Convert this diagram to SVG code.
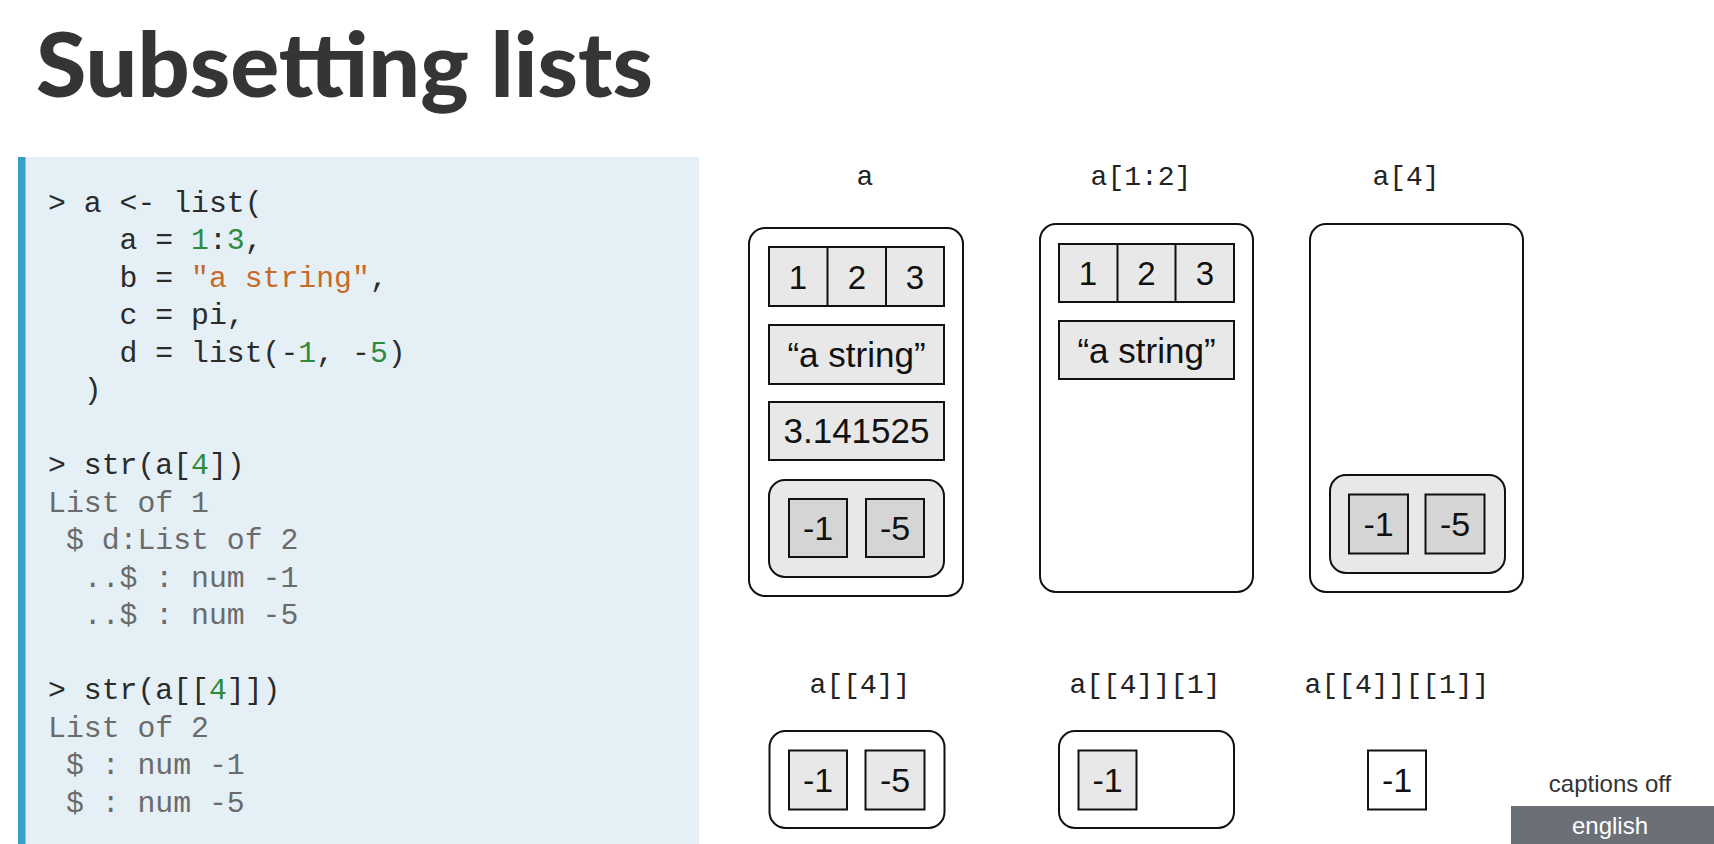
<svg xmlns="http://www.w3.org/2000/svg" width="1714" height="844" viewBox="0 0 1714 844">
<defs>
<style>
.title{font-family:Lato,"Open Sans","Liberation Sans",sans-serif;font-weight:900;font-size:90px;fill:#353535}
.code{font-family:"Liberation Mono","DejaVu Sans Mono",monospace;font-size:29.8px;fill:#2b2b2b;white-space:pre}
.out{fill:#6b6b6b}
.num{fill:#2e8b3d}
.str{fill:#c96a28}
.lbl{font-family:"Liberation Mono","DejaVu Sans Mono",monospace;font-size:28px;fill:#222;text-anchor:middle}
.outer{fill:#fff;stroke:#111;stroke-width:2}
.cell{fill:#e8e8e8;stroke:#111;stroke-width:2}
.dcell{fill:#d5d5d5;stroke:#111;stroke-width:2}
.wcell{fill:#fff;stroke:#111;stroke-width:2}
.t{font-family:"Liberation Sans",Arial,sans-serif;fill:#111;text-anchor:middle}
.t31{font-size:33px}
.t33{font-size:34px}
.t35{font-size:35px}
.ui{font-family:"Liberation Sans",Arial,sans-serif;font-size:24px;text-anchor:middle}
</style>
</defs>
<rect width="1714" height="844" fill="#fff"/>

<g id="title">
<text class="title" x="36" y="97" textLength="617" lengthAdjust="spacingAndGlyphs">Subsetting lists</text>
</g>

<g id="code-panel">
<rect x="18" y="157" width="681" height="687" fill="#e5f0f6"/>
<rect x="18" y="157" width="7.5" height="687" fill="#3a9fc6"/>
<text class="code" xml:space="preserve" x="48" y="211.5">&gt; a &lt;- list(</text>
<text class="code" xml:space="preserve" x="48" y="249">    a = <tspan class="num">1</tspan>:<tspan class="num">3</tspan>,</text>
<text class="code" xml:space="preserve" x="48" y="286.5">    b = <tspan class="str">"a string"</tspan>,</text>
<text class="code" xml:space="preserve" x="48" y="324">    c = pi,</text>
<text class="code" xml:space="preserve" x="48" y="361.5">    d = list(-<tspan class="num">1</tspan>, -<tspan class="num">5</tspan>)</text>
<text class="code" xml:space="preserve" x="48" y="399">  )</text>
<text class="code" xml:space="preserve" x="48" y="474">&gt; str(a[<tspan class="num">4</tspan>])</text>
<text class="code out" xml:space="preserve" x="48" y="511.5">List of 1</text>
<text class="code out" xml:space="preserve" x="48" y="549"> $ d:List of 2</text>
<text class="code out" xml:space="preserve" x="48" y="586.5">  ..$ : num -1</text>
<text class="code out" xml:space="preserve" x="48" y="624">  ..$ : num -5</text>
<text class="code" xml:space="preserve" x="48" y="699">&gt; str(a[[<tspan class="num">4</tspan>]])</text>
<text class="code out" xml:space="preserve" x="48" y="736.5">List of 2</text>
<text class="code out" xml:space="preserve" x="48" y="774"> $ : num -1</text>
<text class="code out" xml:space="preserve" x="48" y="811.5"> $ : num -5</text>
</g>

<g id="connectors"></g>

<g id="node-a">
<text class="lbl" x="865" y="185">a</text>
<rect class="outer" x="749" y="228" width="214" height="368" rx="16"/>
<rect class="cell" x="769" y="247" width="175" height="59"/>
<line x1="827.5" y1="247" x2="827.5" y2="306" stroke="#111" stroke-width="2"/>
<line x1="886" y1="247" x2="886" y2="306" stroke="#111" stroke-width="2"/>
<text class="t t31" x="798" y="288.5">1</text>
<text class="t t31" x="857" y="288.5">2</text>
<text class="t t31" x="915" y="288.5">3</text>
<rect class="cell" x="769" y="325" width="175" height="59"/>
<text class="t t35" x="856.5" y="367">“a string”</text>
<rect class="cell" x="769" y="402" width="175" height="58"/>
<text class="t t35" x="856.5" y="443">3.141525</text>
<rect class="cell" x="769" y="480" width="175" height="97" rx="16"/>
<rect class="dcell" x="789" y="499" width="58" height="58"/>
<text class="t t33" x="818" y="540">-1</text>
<rect class="dcell" x="866" y="499" width="58" height="58"/>
<text class="t t33" x="895" y="540">-5</text>
</g>

<g id="node-a12">
<text class="lbl" x="1141" y="185">a[1:2]</text>
<rect class="outer" x="1040" y="224" width="213" height="368" rx="16"/>
<rect class="cell" x="1059" y="244" width="175" height="58"/>
<line x1="1117.5" y1="244" x2="1117.5" y2="302" stroke="#111" stroke-width="2"/>
<line x1="1175.5" y1="244" x2="1175.5" y2="302" stroke="#111" stroke-width="2"/>
<text class="t t31" x="1088" y="285">1</text>
<text class="t t31" x="1146.5" y="285">2</text>
<text class="t t31" x="1205" y="285">3</text>
<rect class="cell" x="1059" y="321" width="175" height="58"/>
<text class="t t35" x="1146.5" y="362.5">“a string”</text>
</g>

<g id="node-a4">
<text class="lbl" x="1406" y="185">a[4]</text>
<rect class="outer" x="1310" y="224" width="213" height="368" rx="16"/>
<rect class="cell" x="1330" y="475" width="175" height="98" rx="16"/>
<rect class="dcell" x="1349" y="494.5" width="59" height="59"/>
<text class="t t33" x="1378.5" y="536">-1</text>
<rect class="dcell" x="1425.5" y="494.5" width="59" height="59"/>
<text class="t t33" x="1455" y="536">-5</text>
</g>

<g id="node-a4dbl">
<text class="lbl" x="860" y="693">a[[4]]</text>
<rect class="outer" x="769.5" y="731" width="175" height="97" rx="16"/>
<rect class="cell" x="789" y="750.5" width="58" height="59"/>
<text class="t t33" x="818" y="792">-1</text>
<rect class="cell" x="865.5" y="750.5" width="59" height="59"/>
<text class="t t33" x="895" y="792">-5</text>
</g>

<g id="node-a4dbl-1">
<text class="lbl" x="1145" y="693">a[[4]][1]</text>
<rect class="outer" x="1059" y="731" width="175" height="97" rx="16"/>
<rect class="cell" x="1078.5" y="750.5" width="58" height="59"/>
<text class="t t33" x="1107.5" y="792">-1</text>
</g>

<g id="node-a4dbl-1dbl">
<text class="lbl" x="1397" y="693">a[[4]][[1]]</text>
<rect class="wcell" x="1368" y="750.5" width="58" height="59"/>
<text class="t t33" x="1397" y="792">-1</text>
</g>

<g id="captions-ui">
<text class="ui" x="1610" y="792" fill="#333">captions off</text>
<rect x="1511" y="806" width="203" height="38" fill="#6b7077"/>
<text class="ui" x="1610" y="834" fill="#fff">english</text>
</g>
</svg>
